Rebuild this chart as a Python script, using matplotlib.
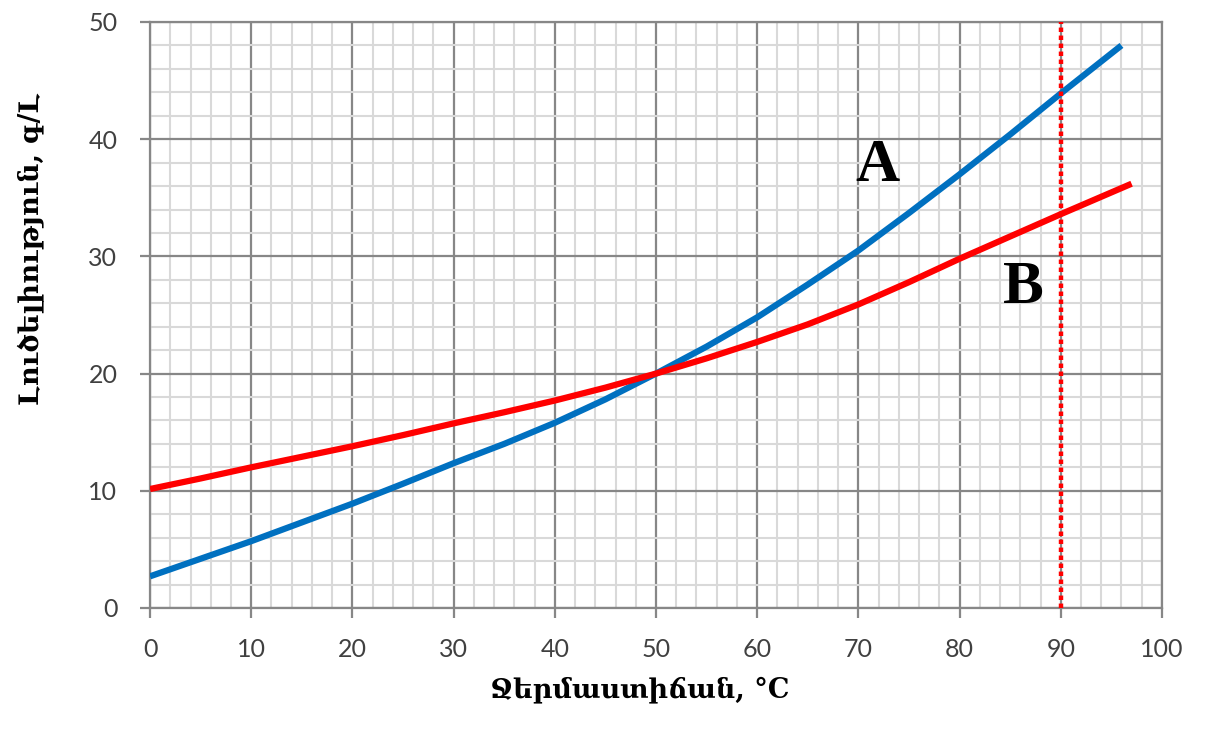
import matplotlib
matplotlib.use("Agg")
import matplotlib.pyplot as plt
from matplotlib.ticker import MultipleLocator

# curve A (blue) and curve B (red)
tempA = [0, 5, 10, 15, 20, 25, 30, 35, 40, 45, 50, 55, 60, 65, 70, 75, 80, 85, 90, 96]
solA = [2.7, 4.2, 5.7, 7.3, 8.9, 10.6, 12.35, 14.0, 15.8, 17.8, 20.0, 22.3, 24.8,
        27.6, 30.5, 33.7, 37.0, 40.4, 43.9, 48.0]

tempB = [0, 5, 10, 15, 20, 25, 30, 35, 40, 45, 50, 55, 60, 65, 70, 75, 80, 85, 90, 97]
solB = [10.15, 11.05, 12.0, 12.9, 13.8, 14.75, 15.75, 16.7, 17.7, 18.8, 20.0, 21.3,
        22.7, 24.2, 25.9, 27.8, 29.8, 31.7, 33.6, 36.2]

mark_temp = 90
xlabel = "Ջերմաստիճան, °C"
ylabel = "Լուծելիություն, գ/Լ"

fig = plt.figure(figsize=(12.12, 7.38), dpi=100)
ax = fig.add_axes([0.1238, 0.1762, 0.9587 - 0.1238, 0.9702 - 0.1762])

ax.set_xlim(0, 100)
ax.set_ylim(0, 50)
ax.xaxis.set_major_locator(MultipleLocator(10))
ax.yaxis.set_major_locator(MultipleLocator(10))
ax.xaxis.set_minor_locator(MultipleLocator(2))
ax.yaxis.set_minor_locator(MultipleLocator(2))

ax.grid(which="minor", color="#d9d9d9", lw=1.5)
ax.grid(which="major", color="#878787", lw=1.6)
ax.set_axisbelow(True)
for s in ax.spines.values():
    s.set_color("#878787")
    s.set_linewidth(1.6)

ax.tick_params(which="minor", length=0)
ax.tick_params(which="major", length=7.5, width=1.6, color="#878787",
               labelsize=18, labelcolor="#404040")
ax.tick_params(axis="x", pad=14)
ax.tick_params(axis="y", pad=16)
for lab in ax.get_xticklabels() + ax.get_yticklabels():
    lab.set_family("Lato")

ax.plot(tempA, solA, color="#0070C0", lw=4.5, solid_capstyle="butt", zorder=3)
ax.plot(tempB, solB, color="#FF0000", lw=4.5, solid_capstyle="butt", zorder=3)
ax.axvline(mark_temp, color="#FF0000", lw=3.2, ls=(0, (1, 0.8)), zorder=4)

ax.text(71.9, 37.7, "A", fontsize=44, fontweight="bold", family="Liberation Serif",
        ha="center", va="center")
ax.text(86.3, 27.3, "B", fontsize=44, fontweight="bold", family="Liberation Serif",
        ha="center", va="center")

ax.set_xlabel(xlabel, fontsize=19.5, fontweight="bold", family=["DejaVu Serif", "DejaVu Sans"])
ax.set_ylabel(ylabel, fontsize=19.5, fontweight="bold", family=["DejaVu Serif", "DejaVu Sans"])
ax.xaxis.set_label_coords(0.484, -0.116)
ax.yaxis.set_label_coords(-0.104, 0.613)

fig.savefig("out.png", dpi=100)
